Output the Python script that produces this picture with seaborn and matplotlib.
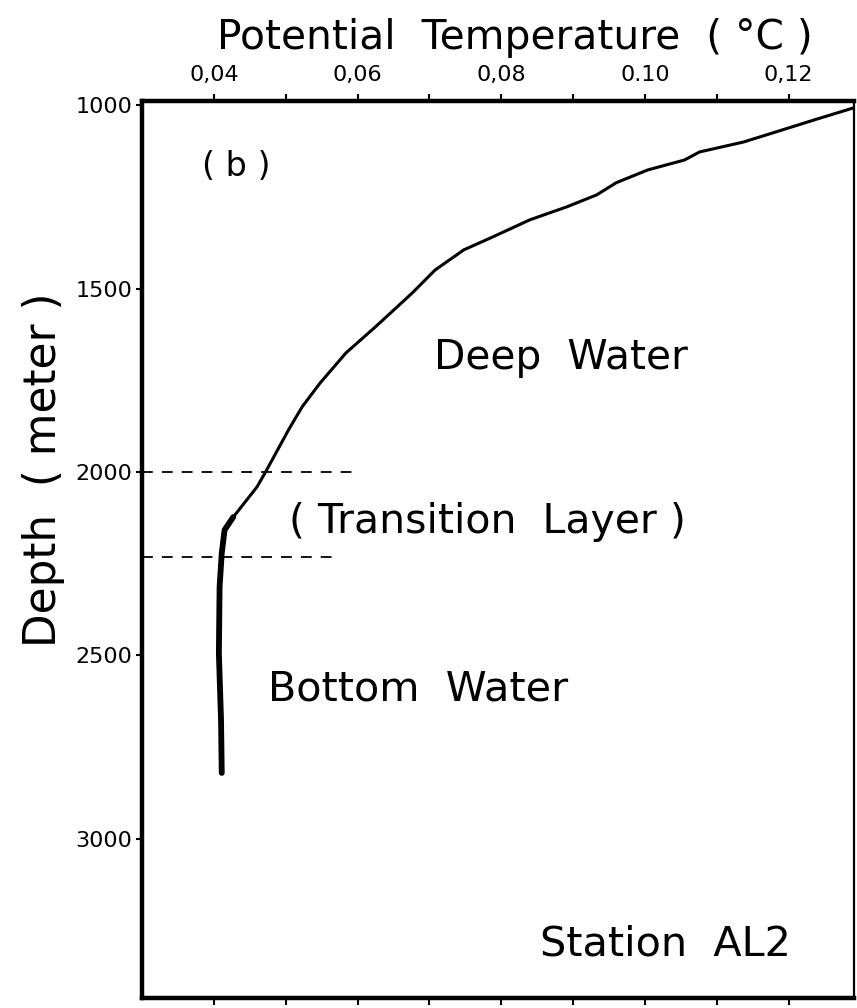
import matplotlib
matplotlib.use("Agg")
import matplotlib.pyplot as plt
import seaborn as sns
import pandas as pd

# ---- data ----
temperature = [0.1290, 0.1235, 0.1178, 0.1137, 0.1076, 0.1055, 0.1004, 0.0960,
               0.0933, 0.0891, 0.0840, 0.0788, 0.0748, 0.0708, 0.0676, 0.0625,
               0.0584, 0.0548, 0.0523, 0.0504, 0.0472, 0.0460, 0.0427, 0.0415,
               0.0411, 0.0408, 0.0407, 0.0410, 0.0411]
depth = [1007, 1040, 1075, 1100, 1127, 1149, 1176, 1211,
         1244, 1277, 1312, 1359, 1394, 1449, 1512, 1604,
         1675, 1757, 1822, 1885, 2000, 2041, 2123, 2158,
         2221, 2314, 2494, 2677, 2821]

layer_depths = [2000, 2232]
layer_line_ends = [0.0592, 0.0575]

x_ticks = [0.04, 0.05, 0.06, 0.07, 0.08, 0.09, 0.10, 0.11, 0.12]
x_tick_labels = ["0,04", "", "0,06", "", "0,08", "", "0.10", "", "0,12"]
y_ticks = [1000, 1500, 2000, 2500, 3000]
y_tick_labels = ["1000", "1500", "2000", "2500", "3000"]

region_labels = ["( b )", "Deep  Water", "( Transition  Layer )",
                 "Bottom  Water", "Station  AL2"]
x_label = "Potential  Temperature  ( °C )"
y_label = "Depth  ( meter )"

# ---- figure ----
sns.set_style("ticks")
plt.rcParams["font.family"] = ["DejaVu Sans"]

fig = plt.figure(figsize=(8.57, 10.08), dpi=100)
ax = fig.add_axes([142 / 857, 10 / 1008, 712 / 857, 897 / 1008])

df = pd.DataFrame({"temperature": temperature, "depth": depth})
sns.lineplot(data=df, x="temperature", y="depth", sort=False, estimator=None,
             color="black", lw=2.2, ax=ax)
sns.lineplot(data=df[df["depth"] >= 2120], x="temperature", y="depth",
             sort=False, estimator=None, color="black", lw=4.2, ax=ax)

for d, xe in zip(layer_depths, layer_line_ends):
    ax.plot([0.03, xe], [d, d], color="black", lw=1.3, ls=(0, (6, 5)))

ax.set_xlim(0.030, 0.1291)
ax.set_ylim(3435, 988)

ax.set_xticks(x_ticks)
ax.set_xticklabels(x_tick_labels)
ax.set_yticks(y_ticks)
ax.set_yticklabels(y_tick_labels)

ax.tick_params(axis="x", top=True, bottom=True, labeltop=True, labelbottom=False,
               direction="out", length=5, width=1.5, pad=6.5, labelsize=16,
               colors="black")
ax.tick_params(axis="y", left=True, right=False, direction="out", length=4,
               width=1.5, pad=3, labelsize=16, colors="black")

for name, sp in ax.spines.items():
    sp.set_color("black")
    sp.set_visible(True)
    sp.set_linewidth(3.2)
ax.spines["right"].set_linewidth(1.6)

ax.set_xlabel(x_label, fontsize=29.3, color="black")
ax.xaxis.set_label_position("top")
ax.xaxis.set_label_coords(0.524, 1.058)
ax.set_ylabel(y_label, fontsize=31.5, color="black")
ax.yaxis.set_label_coords(-0.108, 0.589)

positions = [(0.133, 0.9275), (0.5885, 0.7135), (0.4846, 0.5307),
             (0.3876, 0.3434), (0.7346, 0.0591)]
sizes = [24, 29.3, 29.5, 29.8, 29.8]
for txt, (px, py), fs in zip(region_labels, positions, sizes):
    ax.text(px, py, txt, transform=ax.transAxes, ha="center", va="center",
            fontsize=fs, color="black")

fig.savefig("out.png", dpi=100, facecolor="white")
